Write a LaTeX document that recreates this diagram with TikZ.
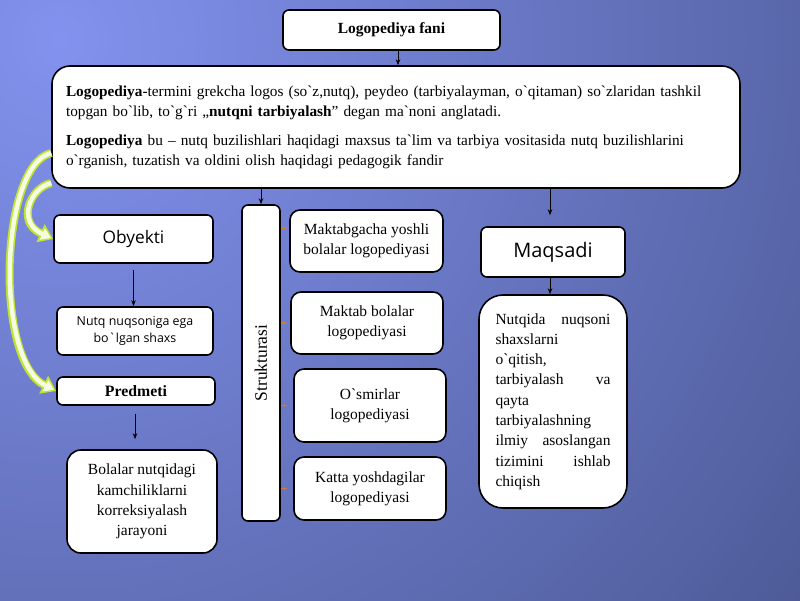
\documentclass[tikz,border=0pt]{standalone}
\usepackage{fontspec}
\setmainfont{Liberation Serif}[Ligatures=TeXOff]
\newfontfamily\osans{Open Sans}[Ligatures=TeXOff]
\usetikzlibrary{arrows.meta}
\definecolor{bgIn}{RGB}{130,146,238}
\definecolor{bgOut}{RGB}{66,78,132}
\definecolor{lime}{RGB}{190,228,50}
\definecolor{paleg}{RGB}{246,252,225}
\definecolor{orng}{RGB}{205,125,50}
\begin{document}
\begin{tikzpicture}[x=1pt,y=-1pt,
  box/.style={draw=black, line width=1.6pt, fill=white, rounded corners=6pt, inner sep=0pt, align=center},
  serifb/.style={font=\fontsize{15.5}{20.3}\selectfont},
  arr/.style={-{Stealth[length=6pt,width=4.5pt]}, line width=0.7pt, black},
  oarr/.style={-{Stealth[length=3pt,width=3pt]}, line width=1.4pt, orng},
  gouter/.style={line width=8pt, lime, -{Triangle[length=14pt,width=19pt]}},
  ginner/.style={line width=4.5pt, paleg, shorten >=2.5pt, -{Triangle[length=9.5pt,width=12pt]}}
]
\useasboundingbox (0,0) rectangle (800,600);
\fill[bgOut] (0,0) rectangle (800,600);
\begin{scope}
\clip (0,0) rectangle (800,600);
\shade[inner color=bgIn, outer color=bgOut] (60,40) circle (1150);
\end{scope}

% top
\node[box, minimum width=217pt, minimum height=40pt, font=\bfseries\fontsize{15.5}{18}\selectfont] (fani) at (391.5,30) {Logopediya fani};

\node[box, rounded corners=18pt, minimum width=688pt, minimum height=122pt,
      text width=660pt, inner xsep=14pt, align=left, font=\fontsize{15.3}{20}\selectfont] (big) at (396,127)
 {\textbf{Logopediya}-termini grekcha logos (so`z,nutq), peydeo (tarbiyalayman, o`qitaman) so`zlaridan tashkil\\
  topgan bo`lib, to`g`ri „\textbf{nutqni tarbiyalash}” degan ma`noni anglatadi.\\[9pt]
  \textbf{Logopediya} bu – nutq buzilishlari haqidagi maxsus ta`lim va tarbiya vositasida nutq buzilishlarini\\
  o`rganish, tuzatish va oldini olish haqidagi pedagogik fandir};

% left column
\node[box, minimum width=159pt, minimum height=48pt, font=\osans\fontsize{17.3}{20}\selectfont] (obj) at (133.5,239) {Obyekti};
\node[box, minimum width=156pt, minimum height=48pt, font=\osans\fontsize{12.4}{17}\selectfont] (nutq) at (135,331) {Nutq nuqsoniga ega\\bo`lgan shaxs};
\node[box, minimum width=158pt, minimum height=28pt, font=\bfseries\fontsize{15.8}{18}\selectfont] (pred) at (136,391) {Predmeti};
\node[box, rounded corners=14pt, minimum width=150pt, minimum height=103pt, serifb] (bol) at (142,501.5) {Bolalar nutqidagi\\kamchiliklarni\\korreksiyalash\\jarayoni};

% structure column
\node[box, minimum width=38pt, minimum height=316pt] (struk) at (261,363) {};
\node[rotate=90, font=\fontsize{17.5}{20}\selectfont] (struklab) at (struk.center) {Strukturasi};
\node[box, rounded corners=10pt, minimum width=153pt, minimum height=62pt, serifb] (mk1) at (366.5,241) {Maktabgacha yoshli\\bolalar logopediyasi};
\node[box, rounded corners=10pt, minimum width=152pt, minimum height=62pt, serifb] (mk2) at (367,323) {Maktab bolalar\\logopediyasi};
\node[box, rounded corners=10pt, minimum width=152pt, minimum height=73pt, serifb] (mk3) at (370,405.5) {O`smirlar\\logopediyasi};
\node[box, rounded corners=10pt, minimum width=152pt, minimum height=63pt, serifb] (mk4) at (370,488.5) {Katta yoshdagilar\\logopediyasi};

% right column
\node[box, minimum width=144pt, minimum height=50pt, font=\osans\fontsize{20}{24}\selectfont] (maq) at (553,252) {Maqsadi};
\node[box, rounded corners=24pt, minimum width=148pt, minimum height=213pt, serifb, align=left] (maqt) at (553,401.5)
 {\makebox[115pt][s]{Nutqida nuqsoni}\\
  shaxslarni\\
  o`qitish,\\
  \makebox[115pt][s]{tarbiyalash va}\\
  qayta\\
  tarbiyalashning\\
  \makebox[115pt][s]{ilmiy asoslangan}\\
  \makebox[115pt][s]{tizimini ishlab}\\
  chiqish};

% black connectors
\draw[arr] (fani.south -| 398,0) -- (398,0 |- big.north);
\draw[arr] (struk.north |- big.south) -- (struk.north);
\draw[arr, shorten >=11pt] (550,0 |- big.south) -- (550,0 |- maq.north);
\draw[arr, shorten <=6pt] (obj.south) -- (obj.south |- nutq.north);
\draw[arr, shorten <=8pt, shorten >=10pt] (pred.south -| 135,0) -- (135,0 |- bol.north);
\draw[arr] (550,0 |- maq.south) -- (550,0 |- maqt.north);

% orange connectors
\draw[oarr] ([yshift=13pt]struk.east |- mk1.west) -- ++(6,0);
\foreach \b in {mk2,mk3,mk4}
  \draw[oarr] (struk.east |- \b.west) -- ++(6,0);

% green curved arrows
\coordinate (g1s) at ([yshift=-26pt]big.west);
\coordinate (g2s) at ([yshift=-56pt]big.west);
\draw[gouter] (g2s) .. controls (30,188) and (16,222) .. (obj.west);
\draw[ginner] (g2s) .. controls (30,188) and (16,222) .. (obj.west);
\draw[gouter] (g1s) .. controls (0,165) and (-6,360) .. (pred.west);
\draw[ginner] (g1s) .. controls (0,165) and (-6,360) .. (pred.west);
\end{tikzpicture}
\end{document}
